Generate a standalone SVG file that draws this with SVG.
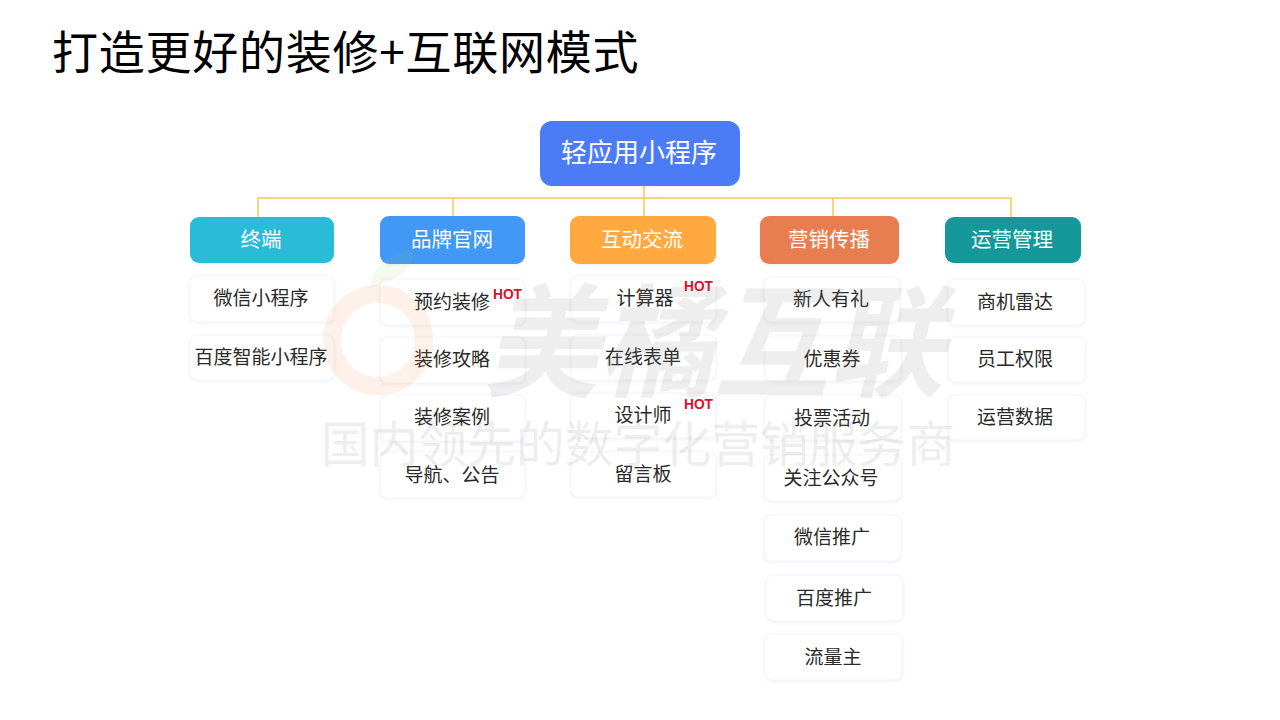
<svg xmlns="http://www.w3.org/2000/svg" width="1280" height="720" viewBox="0 0 1280 720">
<style>
text{font-family:"Noto Sans CJK SC","Noto Sans",sans-serif;text-anchor:middle}
.title{font-size:46px;fill:#000;text-anchor:start;letter-spacing:.75px}
.root{font-size:26px;fill:#fff}
.head{font-size:20.5px;fill:#fff}
.item{font-size:19px;fill:#2a2a2a}
.box{fill:#fff;stroke:#f5f6fb;stroke-width:1.2}
.hot{font-family:"Liberation Sans",sans-serif;font-size:15px;font-weight:bold;fill:#d7102e}
.conn{fill:none;stroke:#f2cb52;stroke-width:1.5}
.wm{fill:#8a8a8a;opacity:.14}
</style>
<defs>
<filter id="soft" x="-10%" y="-20%" width="120%" height="140%"><feDropShadow dx="0" dy="1" stdDeviation="1.5" flood-color="#8fa3d8" flood-opacity=".16"/></filter>
</defs>
<rect width="1280" height="720" fill="#fff"/>
<text class="title" x="52" y="69">打造更好的装修+互联网模式</text>
<g id="connectors">
<path class="conn" d="M258 217V198H1011V217M644 186V217M453 198V217M833 198V217"/>
</g>
<g id="root"><rect x="540" y="121" width="200" height="65" rx="12" fill="#4b7cf6" filter="url(#soft)"/><text class="root" x="639" y="162">轻应用小程序</text></g>
<g id="h1"><rect x="190" y="217" width="144" height="46" rx="9" fill="#29bbd9" filter="url(#soft)"/><text class="head" x="261" y="247">终端</text></g>
<g id="h2"><rect x="380" y="216" width="145" height="48" rx="9" fill="#4298f5" filter="url(#soft)"/><text class="head" x="452" y="247">品牌官网</text></g>
<g id="h3"><rect x="570" y="216" width="146" height="48" rx="9" fill="#ffa940" filter="url(#soft)"/><text class="head" x="642" y="247">互动交流</text></g>
<g id="h4"><rect x="760" y="216" width="139" height="48" rx="9" fill="#e87d4f" filter="url(#soft)"/><text class="head" x="829" y="247">营销传播</text></g>
<g id="h5"><rect x="945" y="217" width="136" height="46" rx="9" fill="#15989a" filter="url(#soft)"/><text class="head" x="1012" y="247">运营管理</text></g>

<g id="a1"><rect class="box" x="190" y="276" width="144" height="46" rx="7" filter="url(#soft)"/><text class="item" x="261" y="305">微信小程序</text></g>
<g id="a2"><rect class="box" x="190" y="335" width="144" height="45" rx="7" filter="url(#soft)"/><text class="item" x="261" y="364">百度智能小程序</text></g>

<g id="b1"><rect class="box" x="380" y="279" width="145" height="46" rx="7" filter="url(#soft)"/><text class="item" x="452" y="309">预约装修</text><text class="hot" x="507.500" y="299" textLength="29" lengthAdjust="spacingAndGlyphs">HOT</text></g>
<g id="b2"><rect class="box" x="380" y="337" width="145" height="46" rx="7" filter="url(#soft)"/><text class="item" x="452" y="366">装修攻略</text></g>
<g id="b3"><rect class="box" x="380" y="395" width="145" height="46" rx="7" filter="url(#soft)"/><text class="item" x="452" y="424">装修案例</text></g>
<g id="b4"><rect class="box" x="380" y="452" width="145" height="46" rx="7" filter="url(#soft)"/><text class="item" x="452" y="482">导航、公告</text></g>

<g id="c1"><rect class="box" x="571" y="276" width="145" height="46" rx="7" filter="url(#soft)"/><text class="item" x="645" y="305">计算器</text><text class="hot" x="698.500" y="291" textLength="29" lengthAdjust="spacingAndGlyphs">HOT</text></g>
<g id="c2"><rect class="box" x="571" y="335" width="145" height="45" rx="7" filter="url(#soft)"/><text class="item" x="643" y="364">在线表单</text></g>
<g id="c3"><rect class="box" x="571" y="393" width="145" height="45" rx="7" filter="url(#soft)"/><text class="item" x="643" y="422">设计师</text><text class="hot" x="698.500" y="409" textLength="29" lengthAdjust="spacingAndGlyphs">HOT</text></g>
<g id="c4"><rect class="box" x="571" y="452" width="145" height="45" rx="7" filter="url(#soft)"/><text class="item" x="643" y="481">留言板</text></g>

<g id="d1"><rect class="box" x="764" y="277" width="136" height="45" rx="7" filter="url(#soft)"/><text class="item" x="831" y="306">新人有礼</text></g>
<g id="d2"><rect class="box" x="765" y="336" width="136" height="45" rx="7" filter="url(#soft)"/><text class="item" x="832" y="366">优惠券</text></g>
<g id="d3"><rect class="box" x="765" y="395" width="136" height="45" rx="7" filter="url(#soft)"/><text class="item" x="832" y="425">投票活动</text></g>
<g id="d4"><rect class="box" x="764" y="455" width="137" height="46" rx="7" filter="url(#soft)"/><text class="item" x="831" y="485">关注公众号</text></g>
<g id="d5"><rect class="box" x="764" y="515" width="137" height="46" rx="7" filter="url(#soft)"/><text class="item" x="832" y="544">微信推广</text></g>
<g id="d6"><rect class="box" x="766" y="575" width="137" height="46" rx="7" filter="url(#soft)"/><text class="item" x="834" y="605">百度推广</text></g>
<g id="d7"><rect class="box" x="765" y="634" width="137" height="46" rx="7" filter="url(#soft)"/><text class="item" x="833" y="664">流量主</text></g>

<g id="e1"><rect class="box" x="948" y="279" width="137" height="46" rx="7" filter="url(#soft)"/><text class="item" x="1015" y="309">商机雷达</text></g>
<g id="e2"><rect class="box" x="948" y="337" width="137" height="45" rx="7" filter="url(#soft)"/><text class="item" x="1015" y="366">员工权限</text></g>
<g id="e3"><rect class="box" x="948" y="395" width="137" height="45" rx="7" filter="url(#soft)"/><text class="item" x="1015" y="424">运营数据</text></g>

<g id="watermark">
<circle cx="378" cy="340" r="46" fill="none" stroke="#f08a4b" stroke-width="18" opacity=".12"/>
<path d="M370 288C372 264 392 254 414 251C412 272 396 280 370 288Z" fill="#9ccc65" opacity=".1"/>
<text class="wm" x="714" y="387" font-size="122" font-weight="700" font-style="italic" textLength="460" lengthAdjust="spacingAndGlyphs">美橘互联</text>
<text class="wm" x="638" y="462" font-size="48.8" style="opacity:.14">国内领先的数字化营销服务商</text>
</g>
</svg>
